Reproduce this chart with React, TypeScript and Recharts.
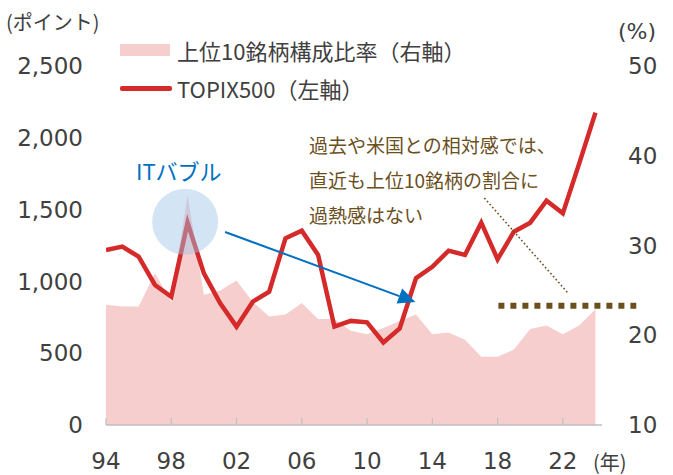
import React from 'react';
import {
  ComposedChart,
  Area,
  Line,
  XAxis,
  YAxis,
  ReferenceLine,
  ReferenceDot,
} from 'recharts';

const years = [
  1994, 1995, 1996, 1997, 1998, 1999, 2000, 2001, 2002, 2003, 2004,
  2005, 2006, 2007, 2008, 2009, 2010, 2011, 2012, 2013, 2014,
  2015, 2016, 2017, 2018, 2019, 2020, 2021, 2022, 2023, 2024,
];

// TOPIX500 (left axis, points)
const topix500 = [
  1219, 1242, 1172, 975, 893, 1409, 1056, 847, 685, 859, 928,
  1300, 1353, 1184, 685, 725, 715, 575, 673, 1022, 1102,
  1214, 1184, 1409, 1154, 1346, 1409, 1562, 1474, 1820, 2175,
];

// top-10 constituents weight (right axis, %)
const top10Share = [
  23.4, 23.2, 23.2, 26.9, 23.7, 35.6, 24.5, 25.0, 26.1, 23.7, 22.1,
  22.3, 23.6, 21.8, 21.8, 20.5, 20.1, 20.8, 21.6, 22.3, 20.1,
  20.3, 19.5, 17.6, 17.6, 18.4, 20.7, 21.1, 20.1, 21.1, 22.9,
];

const xTicks = [1994, 1998, 2002, 2006, 2010, 2014, 2018, 2022];
const leftTicks = [0, 500, 1000, 1500, 2000, 2500];
const rightTicks = [10, 20, 30, 40, 50];

const data = years.map((year, i) => ({
  year,
  topix: topix500[i],
  share: top10Share[i],
}));

const NUM_FONT = "'DejaVu Sans', 'Noto Sans CJK JP', sans-serif";
const JP_FONT = "'Noto Sans CJK JP', 'DejaVu Sans', sans-serif";
const TEXT = '#404040';
const BROWN = '#6B4F1D';
const BLUE = '#0070C0';

const YearTick = (props: any) => {
  const { x, y, payload } = props;
  const label = String(payload.value % 100).padStart(2, '0');
  return (
    <g>
      <line x1={x} x2={x} y1={y} y2={y - 7} stroke="#BFBFBF" strokeWidth={1.2} />
      <text
        x={x}
        y={y + 36}
        textAnchor="middle"
        dominantBaseline="central"
        fill={TEXT}
        fontSize={23}
        fontFamily={NUM_FONT}
      >
        {label}
      </text>
    </g>
  );
};

const Arrow = (props: any) => {
  const { x1, y1, x2, y2 } = props;
  if ([x1, y1, x2, y2].some((v) => typeof v !== 'number')) return null;
  const ang = Math.atan2(y2 - y1, x2 - x1);
  const len = 17;
  const half = 8;
  const bx = x2 - len * Math.cos(ang);
  const by = y2 - len * Math.sin(ang);
  const px = -Math.sin(ang) * half;
  const py = Math.cos(ang) * half;
  return (
    <g>
      <line x1={x1} y1={y1} x2={bx} y2={by} stroke={BLUE} strokeWidth={2} />
      <polygon
        points={`${x2},${y2} ${bx + px},${by + py} ${bx - px},${by - py}`}
        fill={BLUE}
      />
    </g>
  );
};

const abs = (style: React.CSSProperties): React.CSSProperties => ({
  position: 'absolute',
  whiteSpace: 'nowrap',
  margin: 0,
  ...style,
});

export default function App() {
  return (
    <div style={{ position: 'absolute', left: 0, top: 0, width: 673, height: 475, background: '#fff' }}>
      <ComposedChart
        width={673}
        height={475}
        data={data}
        margin={{ top: 66, right: 0, bottom: 0, left: 0 }}
      >
        <XAxis
          dataKey="year"
          type="number"
          domain={[1994, 2024.4]}
          allowDataOverflow
          ticks={xTicks}
          height={50}
          axisLine={{ stroke: '#BFBFBF', strokeWidth: 1.5 }}
          tickLine={false}
          tickSize={0}
          tickMargin={0}
          tick={<YearTick />}
          interval={0}
        />
        <YAxis
          yAxisId="left"
          orientation="left"
          width={106}
          domain={[0, 2500]}
          ticks={leftTicks}
          axisLine={false}
          tickLine={false}
          tickSize={0}
          tickMargin={23}
          tickFormatter={(v: number) => v.toLocaleString('en-US')}
          tick={{ fill: TEXT, fontSize: 23, fontFamily: NUM_FONT }}
          interval={0}
        />
        <YAxis
          yAxisId="right"
          orientation="right"
          width={71}
          domain={[10, 50]}
          ticks={rightTicks}
          axisLine={false}
          tickLine={false}
          tickSize={0}
          tickMargin={26}
          tick={{ fill: TEXT, fontSize: 23, fontFamily: NUM_FONT, textAnchor: 'start' }}
          interval={0}
        />
        <Area
          yAxisId="right"
          type="linear"
          dataKey="share"
          stroke="none"
          fill="#F7CECE"
          fillOpacity={1}
          isAnimationActive={false}
        />
        <Line
          yAxisId="left"
          type="linear"
          dataKey="topix"
          stroke="#D42A2A"
          strokeWidth={4.5}
          dot={false}
          activeDot={false}
          isAnimationActive={false}
        />
        <ReferenceDot
          yAxisId="left"
          x={1998.85}
          y={1416}
          r={33}
          fill="#9DC3E6"
          fillOpacity={0.45}
          stroke="none"
          ifOverflow="visible"
        />
        <ReferenceLine
          yAxisId="left"
          segment={[
            { x: 2001.3, y: 1344 },
            { x: 2012.96, y: 857 },
          ]}
          stroke={BLUE}
          ifOverflow="visible"
          shape={<Arrow />}
        />
        <ReferenceLine
          yAxisId="left"
          segment={[
            { x: 2017.19, y: 1581 },
            { x: 2022.28, y: 923 },
          ]}
          stroke={BROWN}
          strokeWidth={1.6}
          strokeDasharray="1.6 2.4"
          ifOverflow="visible"
        />
        <ReferenceLine
          yAxisId="right"
          segment={[
            { x: 2018.05, y: 23.3 },
            { x: 2026.5, y: 23.3 },
          ]}
          stroke={BROWN}
          strokeWidth={6}
          strokeDasharray="6 6"
          ifOverflow="visible"
        />
      </ComposedChart>

      {/* axis units */}
      <div style={abs({ left: 6, top: 10, fontSize: 20, lineHeight: '24px', fontFamily: JP_FONT, color: TEXT })}>
        (ポイント)
      </div>
      <div style={abs({ left: 618, top: 19, fontSize: 22, lineHeight: '26px', fontFamily: NUM_FONT, color: TEXT })}>
        (%)
      </div>
      <div style={abs({ left: 593, top: 449, fontSize: 20, lineHeight: '26px', fontFamily: JP_FONT, color: TEXT })}>
        (年)
      </div>

      {/* legend */}
      <div style={abs({ left: 120, top: 44, width: 50, height: 12, background: '#F7CECE' })} />
      <div style={abs({ left: 177, top: 37, fontSize: 22, lineHeight: '26px', fontFamily: JP_FONT, color: TEXT })}>
        上位10銘柄構成比率（右軸）
      </div>
      <div style={abs({ left: 120, top: 86, width: 52, height: 4.5, borderRadius: 2, background: '#D42A2A' })} />
      <div style={abs({ left: 177, top: 75, fontSize: 22, lineHeight: '26px', fontFamily: JP_FONT, color: TEXT })}>
        TOPIX500（左軸）
      </div>

      {/* annotations */}
      <div style={abs({ left: 136, top: 156, fontSize: 22, lineHeight: '28px', fontFamily: JP_FONT, color: BLUE })}>
        ITバブル
      </div>
      <div style={abs({ left: 309, top: 127, fontSize: 19, lineHeight: '35px', fontFamily: JP_FONT, color: BROWN })}>
        過去や米国との相対感では、
        <br />
        直近も上位10銘柄の割合に
        <br />
        過熱感はない
      </div>
    </div>
  );
}
